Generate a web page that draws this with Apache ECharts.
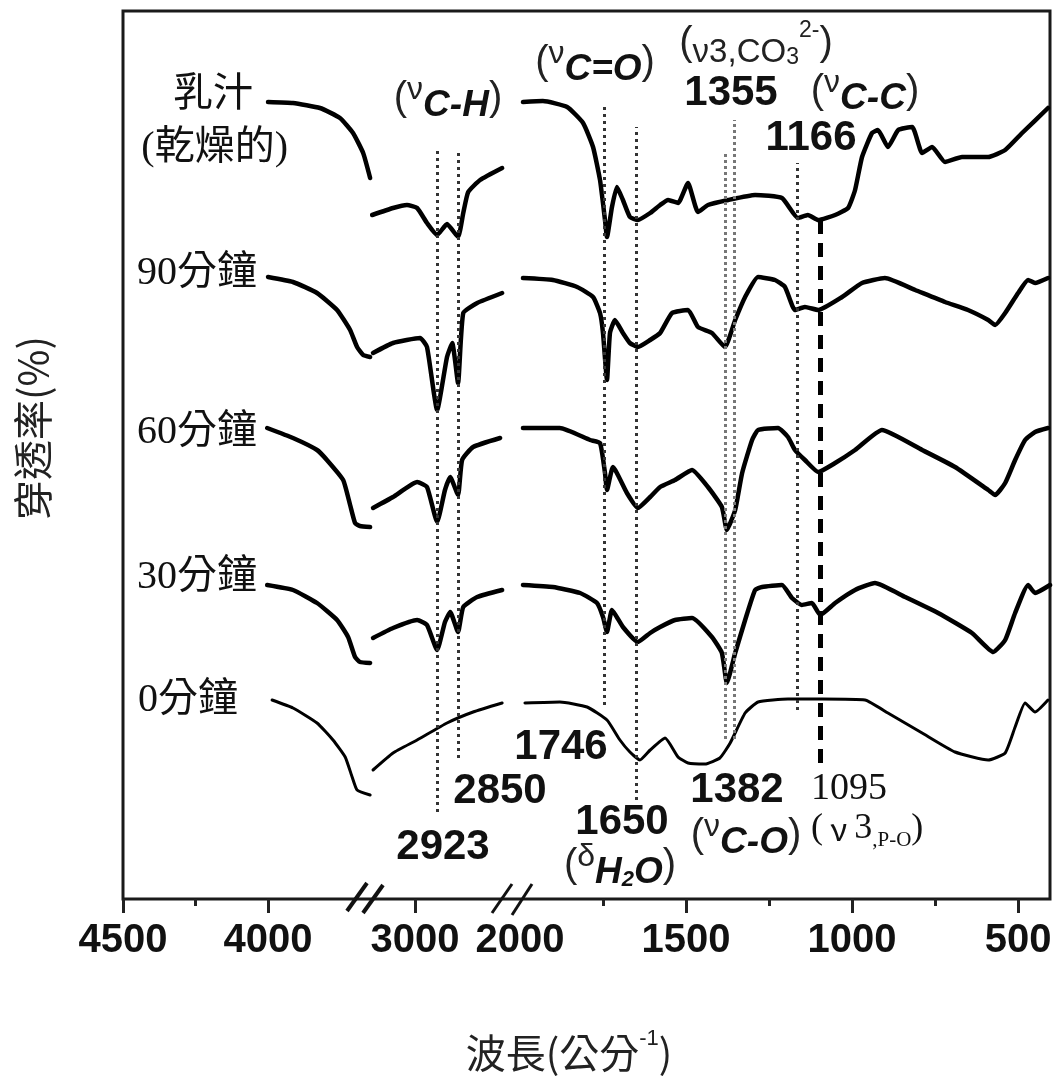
<!DOCTYPE html>
<html><head><meta charset="utf-8">
<script src="https://cdn.jsdelivr.net/npm/echarts@6.0.0/dist/echarts.min.js"></script>
<style>html,body{margin:0;padding:0;background:#fff}#c{width:1060px;height:1081px}</style>
</head><body><div id="c"></div>
<script>
// ===== DATA (wavenumber cm^-1, offset transmittance in arbitrary units) =====
const curveLabels = ['乳汁', '90分鐘', '60分鐘', '30分鐘', '0分鐘'];

// Segment A: 4500 - 3645 cm-1, Segment B: 3152 - 2666 cm-1, Segment C: 2024 - 404 cm-1
const milkA = [[4000,79.7],[3914,79.6],[3821,79.1],[3752,78.1],[3707,76.6],[3672,74.6],[3648,72.1]];
const milkB = [[3148,68.4],[3076,69.1],[3028,69.4],[2993,69.1],[2959,67.6],[2924,66.4],[2890,67.5],[2852,66.2],[2834,68.6],[2817,70.7],[2776,71.9],[2700,73.1]];
const milkC = [[1991,79.7],[1931,79.8],[1858,79.2],[1810,77.6],[1780,75.2],[1759,71.9],[1744,67.9],[1738,66.2],[1723,69.2],[1708,71.2],[1690,69.9],[1669,68.2],[1645,67.9],[1608,68.6],[1578,69.4],[1554,69.9],[1524,69.6],[1494,71.6],[1464,68.7],[1434,69.4],[1373,69.9],[1292,70.4],[1211,70.1],[1163,68.1],[1133,68.4],[1102,67.9],[1051,68.4],[1012,69.1],[991,70.9],[970,74.2],[940,76.6],[922,76.9],[892,75.2],[861,76.9],[819,77.2],[789,74.6],[759,75.2],[720,73.7],[669,74.2],[590,74.2],[539,74.9],[488,76.6],[410,79.1]];

const min90A = [[4000,62.2],[3914,61.7],[3831,60.6],[3762,58.9],[3717,56.9],[3693,55.2],[3672,54.4],[3648,54.2]];
const min90B = [[3145,54.6],[3076,55.6],[2983,56.1],[2959,55.2],[2924,48.9],[2890,54.2],[2872,55.6],[2852,51.6],[2834,58.6],[2786,59.6],[2700,60.6]];
const min90C = [[1991,62.1],[1901,61.9],[1828,61.2],[1780,60.2],[1759,58.6],[1750,56.6],[1738,51.9],[1729,56.6],[1714,57.9],[1690,56.6],[1669,55.6],[1645,55.2],[1608,55.9],[1578,56.6],[1542,58.6],[1494,58.9],[1464,57.2],[1422,56.6],[1383,55.2],[1352,57.9],[1322,60.2],[1283,62.2],[1232,61.9],[1202,61.2],[1172,58.9],[1142,59.2],[1102,58.9],[1030,60.2],[970,61.6],[901,62.1],[810,60.9],[720,59.7],[651,58.9],[590,57.9],[569,57.4],[539,58.6],[500,60.6],[470,61.9],[449,61.6],[410,62.1]];

const min60A = [[4003,47.1],[3914,46.1],[3831,44.9],[3797,43.9],[3741,41.9],[3717,39.4],[3700,37.6],[3683,37.3],[3648,37.2]];
const min60B = [[3145,39.1],[3076,40.2],[2993,41.7],[2959,41.2],[2924,37.7],[2897,40.9],[2879,42.2],[2852,40.4],[2838,43.9],[2800,45.2],[2707,46.1]];
const min60C = [[1991,47.1],[1880,47.1],[1789,45.9],[1759,45.6],[1744,42.6],[1738,40.9],[1720,43.2],[1678,40.6],[1645,39.1],[1608,40.2],[1578,41.2],[1533,41.9],[1482,42.9],[1434,41.2],[1392,39.2],[1377,36.9],[1352,38.9],[1331,42.6],[1301,45.9],[1283,46.9],[1223,47.1],[1193,46.2],[1172,44.9],[1142,43.9],[1102,42.7],[1051,43.6],[991,44.9],[910,46.9],[789,44.9],[690,43.2],[590,40.9],[569,40.4],[539,41.6],[509,43.9],[479,45.9],[449,46.7],[410,47.1]];

const min30A = [[4003,31.4],[3914,30.9],[3831,29.6],[3762,27.9],[3724,26.2],[3700,24.2],[3683,23.7],[3648,23.6]];
const min30B = [[3145,26.1],[3076,27.1],[2993,27.9],[2959,27.4],[2924,24.9],[2897,27.7],[2879,28.7],[2852,26.7],[2834,29.2],[2786,30.2],[2700,30.9]];
const min30C = [[1991,31.4],[1901,31.2],[1819,30.6],[1768,29.6],[1750,28.2],[1738,26.7],[1723,28.9],[1690,27.2],[1645,25.7],[1608,26.6],[1578,27.2],[1533,27.9],[1482,28.1],[1422,26.2],[1392,24.6],[1377,21.6],[1352,24.6],[1322,27.9],[1292,30.9],[1271,31.2],[1211,31.4],[1181,30.1],[1151,29.4],[1121,29.6],[1096,28.4],[1051,29.6],[991,30.9],[931,31.6],[840,30.2],[741,28.6],[639,26.6],[575,24.7],[539,25.9],[509,28.6],[470,31.4],[449,30.6],[404,31.4]];

const min0A = [[3986,19.9],[3914,19.1],[3831,17.6],[3776,15.9],[3734,14.2],[3710,12.2],[3693,10.9],[3648,10.4]];
const min0B = [[3145,12.9],[3076,14.6],[2993,15.9],[2890,17.6],[2800,18.7],[2700,19.6]];
const min0C = [[1985,19.6],[1880,19.7],[1798,19.2],[1738,17.9],[1699,15.9],[1669,14.7],[1639,13.9],[1608,14.9],[1563,16.1],[1524,14.2],[1494,13.6],[1443,13.5],[1398,14.1],[1367,15.6],[1322,18.6],[1283,19.7],[1193,20.0],[1090,20.0],[961,19.9],[892,18.6],[789,16.6],[690,14.7],[590,13.9],[539,14.6],[509,17.2],[479,19.6],[449,18.7],[410,19.9]];

// tick labels / ticks
const tickLabelsA = [4500, 4000];
const majorTicksA = [4500, 4000];
const minorTicksA = [4250];
const tickLabelsB = [3000];
const majorTicksB = [3000];
const tickLabelsC = [2000, 1500, 1000, 500];
const majorTicksC = [1500, 1000, 500];
const minorTicksC = [1750, 1250, 750];

// peak marker lines
const chPeaks = [2923, 2850];
const chPeakTop = [75.2, 74.9];
const chPeakBottom = [8.7, 14.1];
const fpPeaks = [1746, 1650, 1382, 1355, 1166, 1095];
const fpPeakTop = [79.2, 77.2, 74.6, 77.9, 73.6, 67.9];
const fpPeakBottom = [19.4, 9.9, 16.0, 16.0, 18.9, 13.6];

// ===== LAYOUT / STYLE =====
const curvesA = [milkA, min90A, min60A, min30A, min0A];
const curvesB = [milkB, min90B, min60B, min30B, min0B];
const curvesC = [milkC, min90C, min60C, min30C, min0C];
const widths = [4.5, 4.5, 4.5, 4.5, 3];

const TOP = 11, H = 888;
const axisFont = {fontSize: 40, fontWeight: 'bold', fontFamily: 'Liberation Sans', color: '#111', margin: 22, formatter: v => String(v)};
const tickStyle = {color: '#222', width: 3};

function xAx(grid, min, max, labels, ticks, len) {
  return {
    type: 'value', gridIndex: grid, inverse: true, min: min, max: max, position: 'bottom',
    axisLine: {show: false, onZero: false}, splitLine: {show: false},
    axisTick: {show: true, customValues: ticks, length: len, lineStyle: tickStyle},
    axisLabel: labels ? Object.assign({show: true, customValues: labels}, axisFont) : {show: false}
  };
}
const xAxes = [
  {type: 'value', gridIndex: 0, show: false, min: 0, max: 1},
  xAx(1, 3645, 4500, tickLabelsA, majorTicksA, 14),
  xAx(1, 3645, 4500, null, minorTicksA, 7),
  xAx(2, 2666, 3152, tickLabelsB, majorTicksB, 14),
  xAx(3, 404, 2024, tickLabelsC, majorTicksC, 14),
  xAx(3, 404, 2024, null, minorTicksC, 7)
];
const yAxes = [0, 1, 2, 3].map(g => ({type: 'value', gridIndex: g, show: false, min: 0, max: 88.8}));

const series = [];
function addSeg(curves, xi, yi) {
  curves.forEach((d, i) => series.push({
    type: 'line', xAxisIndex: xi, yAxisIndex: yi, data: d, symbol: 'none', smooth: 0.15,
    lineStyle: {color: '#000', width: widths[i], cap: 'round', join: 'round'}, z: 3, silent: true
  }));
}
addSeg(curvesA, 1, 1);
addSeg(curvesB, 3, 2);
addSeg(curvesC, 4, 3);

const dotStyle = {color: '#333', width: 3, type: [3, 4]};
const lightDot = {color: '#777', width: 3, type: [3, 3]};
const heavyDash = {color: '#000', width: 5, type: [14, 9]};
function ml(wns, tops, bots, styleFn) {
  return wns.map((w, i) => [{coord: [w, bots[i]], lineStyle: styleFn(w, i)}, {coord: [w, tops[i]]}]);
}
series.push({
  type: 'line', xAxisIndex: 3, yAxisIndex: 2, data: [], z: 1, silent: true,
  markLine: {symbol: ['none', 'none'], label: {show: false}, animation: false, silent: true,
    data: ml(chPeaks, chPeakTop, chPeakBottom, () => dotStyle)}
});
series.push({
  type: 'line', xAxisIndex: 4, yAxisIndex: 3, data: [], z: 1, silent: true,
  markLine: {symbol: ['none', 'none'], label: {show: false}, animation: false, silent: true,
    data: ml(fpPeaks, fpPeakTop, fpPeakBottom, (w, i) => i === 5 ? heavyDash : (i === 2 || i === 3 ? lightDot : dotStyle))}
});

// ===== TEXT ANNOTATIONS =====
const SANS = 'Liberation Sans', SERIF = 'Liberation Serif', CJK = '"Liberation Serif", "Noto Sans CJK TC"';
function num(t, x, y) {
  return {type: 'text', x: x, y: y, z: 10, style: {text: t, fontSize: 42, fontWeight: 'bold', fontFamily: SANS, fill: '#111', align: 'center', verticalAlign: 'middle'}};
}
function vib(greek, sub, x, y) {
  return {type: 'text', x: x, y: y, z: 10, style: {
    text: '{p|(}{v|' + greek + '}{s|' + sub + '}{p|)}', align: 'center', verticalAlign: 'middle', fill: '#111',
    rich: {
      p: {fontSize: 40, fontFamily: SANS, lineHeight: 50, verticalAlign: 'middle', fill: '#222'},
      v: {fontSize: 32, fontFamily: SANS, lineHeight: 32, verticalAlign: 'top', fill: '#222'},
      s: {fontSize: 37, fontFamily: SANS, fontWeight: 'bold', fontStyle: 'italic', lineHeight: 37, verticalAlign: 'bottom', fill: '#111'}
    }}};
}
function lab(t, x, y, size) {
  return {type: 'text', x: x, y: y, z: 10, style: {text: t, fontSize: size || 40, fontFamily: CJK, fill: '#111', align: 'right', verticalAlign: 'middle'}};
}
const graphics = [
  lab(curveLabels[0], 253, 95), lab('(乾燥的)', 288, 148),
  lab(curveLabels[1], 257, 273), lab(curveLabels[2], 257, 432),
  lab(curveLabels[3], 257, 577), lab(curveLabels[4], 238, 700),
  vib('ν', 'C-H', 448, 99),
  vib('ν', 'C=O', 595, 63),
  vib('ν', 'C-C', 865, 92),
  vib('ν', 'C-O', 746, 836),
  {type: 'text', x: 620, y: 866, z: 10, style: {
    text: '{p|(}{v|δ}{s|H}{ss|2}{s|O}{p|)}', align: 'center', verticalAlign: 'middle', fill: '#111',
    rich: {
      p: {fontSize: 40, fontFamily: SANS, lineHeight: 50, verticalAlign: 'middle', fill: '#222'},
      v: {fontSize: 32, fontFamily: SANS, lineHeight: 32, verticalAlign: 'top', fill: '#222'},
      s: {fontSize: 37, fontFamily: SANS, fontWeight: 'bold', fontStyle: 'italic', lineHeight: 37, verticalAlign: 'bottom', fill: '#111'},
      ss: {fontSize: 22, fontFamily: SANS, fontWeight: 'bold', fontStyle: 'italic', lineHeight: 24, verticalAlign: 'bottom', fill: '#111'}
    }}},
  {type: 'text', x: 756, y: 44, z: 10, style: {
    text: '{p|(}{n|ν3,CO}{sb|3}{sp|2-}{p|)}', align: 'center', verticalAlign: 'middle', fill: '#222',
    rich: {
      p: {fontSize: 40, fontFamily: SANS, lineHeight: 50, verticalAlign: 'middle'},
      n: {fontSize: 33, fontFamily: SANS, lineHeight: 42, verticalAlign: 'bottom'},
      sb: {fontSize: 23, fontFamily: SANS, lineHeight: 23, verticalAlign: 'bottom'},
      sp: {fontSize: 23, fontFamily: SANS, lineHeight: 27, verticalAlign: 'top'}
    }}},
  num('1355', 731, 93), num('1166', 811, 138),
  num('1746', 561, 747), num('2850', 500, 791), num('2923', 443, 847),
  num('1650', 622, 822), num('1382', 737, 790),
  {type: 'text', x: 849, y: 789, z: 10, style: {text: '1095', fontSize: 38, fontFamily: SERIF, fill: '#111', align: 'center', verticalAlign: 'middle'}},
  {type: 'text', x: 811, y: 829, z: 10, style: {
    text: '{p|(}{g| ν }{n|3}{sm|,P-O}{p|)}', align: 'left', verticalAlign: 'middle', fill: '#111',
    rich: {
      p: {fontSize: 36, fontFamily: SERIF, lineHeight: 44, verticalAlign: 'middle'},
      g: {fontSize: 32, fontFamily: '"Noto Sans CJK TC"', lineHeight: 44, verticalAlign: 'middle'},
      n: {fontSize: 36, fontFamily: SERIF, lineHeight: 44, verticalAlign: 'middle'},
      sm: {fontSize: 21, fontFamily: SERIF, lineHeight: 30, verticalAlign: 'bottom'}
    }}},
  // axis titles
  {type: 'text', x: 33, y: 428, rotation: Math.PI / 2, z: 10, style: {text: '穿透率(%)', fontSize: 40, fontFamily: '"Noto Sans CJK TC"', fill: '#222', align: 'center', verticalAlign: 'middle'}},
  {type: 'text', x: 569, y: 1053, z: 10, style: {
    text: '{a|波長(公分}{b|-1}{a|)}', align: 'center', verticalAlign: 'middle', fill: '#222',
    rich: {
      a: {fontSize: 40, fontFamily: '"Noto Sans CJK TC"', lineHeight: 50, verticalAlign: 'middle'},
      b: {fontSize: 22, fontFamily: SANS, lineHeight: 22, verticalAlign: 'top'}
    }}},
  // axis break marks
  {type: 'line', z: 10, shape: {x1: 347, y1: 911, x2: 367, y2: 883}, style: {stroke: '#111', lineWidth: 4}},
  {type: 'line', z: 10, shape: {x1: 363, y1: 913, x2: 383, y2: 885}, style: {stroke: '#111', lineWidth: 4}},
  {type: 'line', z: 10, shape: {x1: 492, y1: 913, x2: 512, y2: 884}, style: {stroke: '#111', lineWidth: 3}},
  {type: 'line', z: 10, shape: {x1: 512, y1: 915, x2: 532, y2: 884}, style: {stroke: '#111', lineWidth: 3}}
];

const option = {
  animation: false,
  backgroundColor: '#fff',
  grid: [
    {left: 123, top: TOP, width: 927, height: H, show: true, borderColor: '#1a1a1a', borderWidth: 3, backgroundColor: 'transparent'},
    {left: 123, top: TOP, width: 248, height: H},
    {left: 371, top: TOP, width: 141, height: H},
    {left: 512, top: TOP, width: 538, height: H}
  ],
  xAxis: xAxes,
  yAxis: yAxes,
  series: series,
  graphic: {elements: graphics}
};
const chart = echarts.init(document.getElementById('c'), null, {renderer: 'canvas'});
chart.setOption(option);
</script></body></html>
